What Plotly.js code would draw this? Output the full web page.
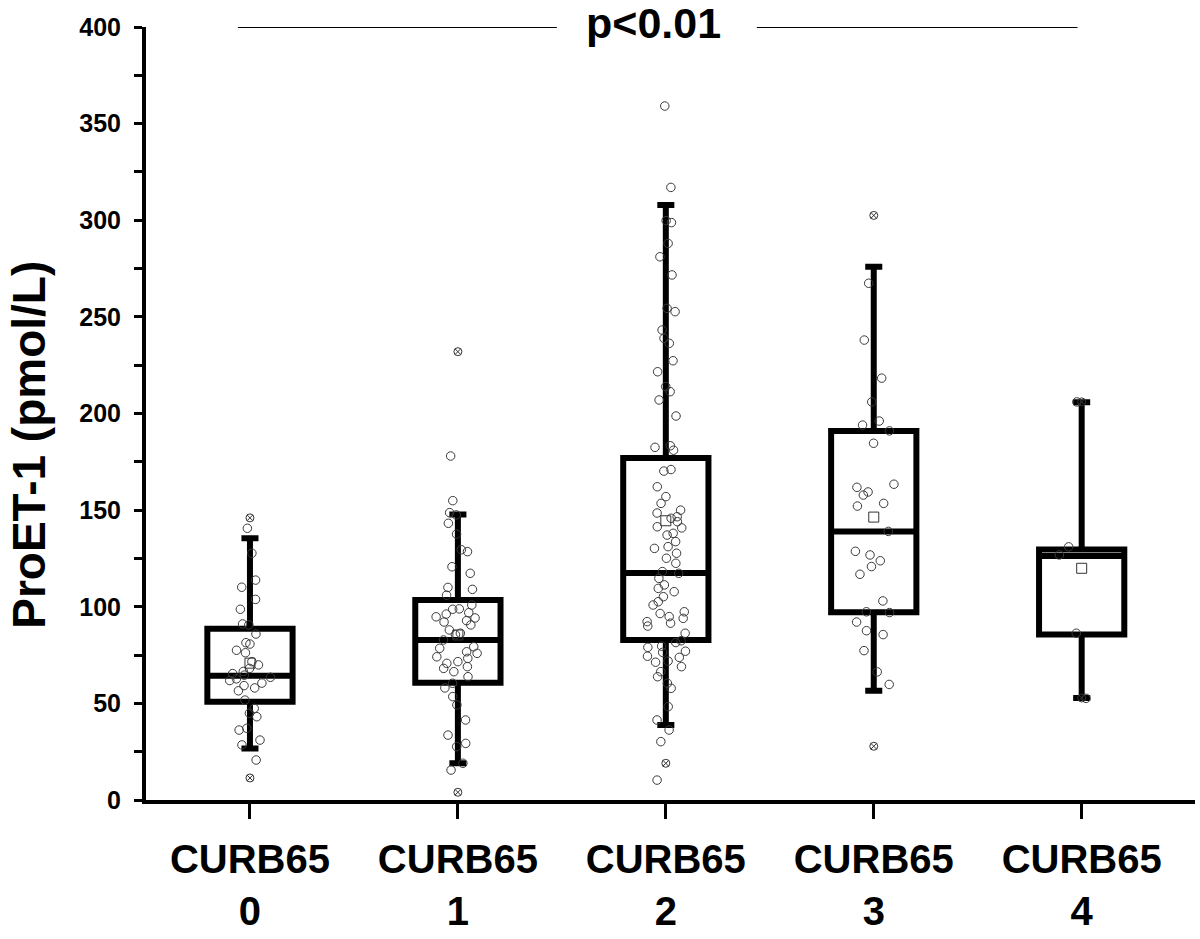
<!DOCTYPE html>
<html>
<head>
<meta charset="utf-8">
<script src="https://cdn.plot.ly/plotly-3.0.1.min.js"></script>
<style>html,body{margin:0;padding:0;background:#fff;}#chart{width:1200px;height:939px;}</style>
</head>
<body>
<div id="chart"></div>
<script>
// ---- data ----
const categories = [0, 1, 2, 3, 4];
const tickLabels = ["CURB65<br>0", "CURB65<br>1", "CURB65<br>2", "CURB65<br>3", "CURB65<br>4"];

const q1Values      = [50.9, 60.7, 82.8, 97.2, 85.6];
const medianValues  = [64.3, 82.8, 117.5, 139.0, 126.3];
const q3Values      = [88.6, 103.5, 177.0, 191.0, 129.6];
const lowerWhisker  = [26.7, 19.0, 38.8, 56.5, 52.8];
const upperWhisker  = [135.5, 147.8, 307.9, 276.0, 205.8];
const meanValues    = [70.8, 85.4, 144.5, 146.4, 119.9];

// extreme values (drawn as crossed circles)
const extremeCat    = [0, 0, 1, 1, 2, 3, 3, 4, 4];
const extremeValues = [146.0, 11.4, 232.0, 4.0, 19.0, 302.5, 27.8, 206.0, 52.8];

// individual patient values per CURB65 group
const group0 = [140.6, 127.7, 113.8, 110.1, 103.8, 98.7, 91.1, 90.6, 85.9, 81.4, 80.7, 77.5, 76.2,
  71.6, 69.9, 68.1, 66.5, 65.4, 64.6, 63.5, 62.7, 61.8, 60.5, 59.2, 58.0, 56.5, 51.7, 47.4, 44.9,
  43.1, 37.1, 36.2, 31.0, 28.5, 20.7];
const group1 = [178.0, 154.9, 148.7, 147.5, 143.2, 137.6, 129.5, 128.5, 120.7, 117.3, 110.0, 109.0,
  106.0, 100.9, 98.7, 98.9, 96.2, 96.9, 94.2, 94.8, 92.1, 92.8, 90.6, 88.0, 86.3, 85.5, 82.8, 79.3,
  78.5, 76.7, 75.9, 74.1, 73.3, 71.6, 70.7, 69.0, 68.1, 66.4, 63.8, 60.4, 58.0, 53.5, 49.2, 41.4,
  33.6, 29.3, 27.6, 19.0, 15.5];
const group2 = [359.1, 317.0, 299.8, 298.8, 288.0, 281.1, 271.7, 254.4, 252.7, 243.2, 238.9, 236.3,
  227.3, 221.6, 213.9, 211.3, 207.0, 198.7, 183.3, 182.5, 181.0, 171.0, 170.2, 162.1, 157.0, 153.5,
  150.0, 148.5, 146.6, 145.8, 144.0, 141.4, 140.8, 138.0, 137.1, 133.7, 131.1, 130.2, 127.7, 125.1,
  122.5, 118.2, 117.3, 114.7, 111.3, 109.5, 107.8, 105.2, 102.6, 100.9, 97.4, 96.5, 94.9, 94.0,
  92.3, 91.5, 90.0, 86.3, 82.4, 81.5, 79.6, 79.0, 77.0, 76.4, 74.4, 73.8, 71.9, 71.3, 69.0, 66.4,
  63.8, 60.4, 57.8, 48.3, 41.4, 36.2, 30.2, 10.3];
const group3 = [267.4, 238.0, 218.3, 206.0, 196.1, 194.0, 191.0, 184.6, 163.4, 161.8, 159.4, 157.8,
  153.5, 152.1, 139.0, 128.7, 126.8, 123.8, 120.8, 116.8, 103.0, 97.4, 97.0, 92.1, 87.6, 85.6, 77.3,
  66.3, 59.8];
const group4 = [206.0, 131.0, 126.8, 86.3, 52.6];

const pValueText = "p<0.01";
const yTitle = "ProET-1 (pmol/L)";

// ---- build traces ----
const groups = [group0, group1, group2, group3, group4];
const ptsX = [], ptsY = [];
groups.forEach((g, i) => g.forEach(v => { ptsX.push(categories[i]); ptsY.push(v); }));

const FONT = "Arial, 'Liberation Sans', sans-serif";

const boxTrace = {
  type: 'box',
  x: categories,
  q1: q1Values,
  median: medianValues,
  q3: q3Values,
  lowerfence: lowerWhisker,
  upperfence: upperWhisker,
  boxpoints: false,
  width: 0.41,
  whiskerwidth: 0.2,
  line: {color: '#000', width: 6},
  fillcolor: 'rgba(0,0,0,0)',
  hoverinfo: 'skip',
  showlegend: false
};

const pointsTrace = {
  type: 'box',
  x: ptsX,
  y: ptsY,
  boxpoints: 'all',
  jitter: 0.55,
  pointpos: 0,
  width: 0.41,
  line: {color: 'rgba(0,0,0,0)', width: 0},
  fillcolor: 'rgba(0,0,0,0)',
  marker: {symbol: 'circle-open', size: 8.5, color: '#3a3a3a', line: {width: 1, color: '#3a3a3a'}},
  hoverinfo: 'y',
  showlegend: false
};

const meanTrace = {
  type: 'scatter', mode: 'markers',
  x: categories, y: meanValues,
  marker: {symbol: 'square-open', size: 10, color: '#333', line: {width: 1}},
  showlegend: false, hoverinfo: 'y'
};

const extremeTrace = {
  type: 'scatter', mode: 'markers',
  x: extremeCat, y: extremeValues,
  marker: {symbol: 'circle-x-open', size: 8, color: '#333', line: {width: 1}},
  showlegend: false, hoverinfo: 'y'
};

const layout = {
  width: 1200, height: 939,
  margin: {l: 146, r: 5, t: 27, b: 139},
  paper_bgcolor: '#fff', plot_bgcolor: '#fff',
  boxmode: 'overlay',
  showlegend: false,
  font: {family: FONT, color: '#000'},
  xaxis: {
    range: [-0.5, 4.545],
    tickmode: 'array', tickvals: categories, ticktext: tickLabels,
    showgrid: false, zeroline: false,
    showline: true, linewidth: 4, linecolor: '#000',
    ticks: 'outside', ticklen: 15, tickwidth: 3, tickcolor: '#000',
    ticklabelstandoff: 6,
    tickfont: {family: FONT, size: 40, weight: 'bold', color: '#000'}
  },
  yaxis: {
    range: [0, 400],
    dtick: 50, tick0: 0,
    showgrid: false, zeroline: false,
    showline: true, linewidth: 4, linecolor: '#000',
    ticks: 'outside', ticklen: 8, tickwidth: 3, tickcolor: '#000',
    ticklabelstandoff: 8,
    minor: {dtick: 25, ticks: 'outside', ticklen: 8, tickwidth: 3, tickcolor: '#000', showgrid: false},
    tickfont: {family: FONT, size: 25, weight: 'bold', color: '#000'}
  },
  annotations: [{
    xref: 'x', yref: 'y', x: 1.94, y: 400, yshift: 4, text: pValueText, showarrow: false,
    font: {family: FONT, size: 43, weight: 'bold', color: '#000'},
    xanchor: 'center', yanchor: 'middle'
  }, {
    xref: 'paper', yref: 'paper', x: -0.111, y: 0.459, text: yTitle, showarrow: false,
    textangle: -90, xanchor: 'center', yanchor: 'middle',
    font: {family: FONT, size: 46, weight: 'bold', color: '#000'}
  }],
  shapes: [
    {type: 'line', xref: 'x', yref: 'y', x0: -0.058, x1: 1.476, y0: 400, y1: 400, line: {color: '#000', width: 2}},
    {type: 'line', xref: 'x', yref: 'y', x0: 2.438, x1: 3.98, y0: 400, y1: 400, line: {color: '#000', width: 2}}
  ]
};

Plotly.newPlot('chart', [boxTrace, pointsTrace, meanTrace, extremeTrace], layout,
  {displayModeBar: false, staticPlot: true});
</script>
</body>
</html>
